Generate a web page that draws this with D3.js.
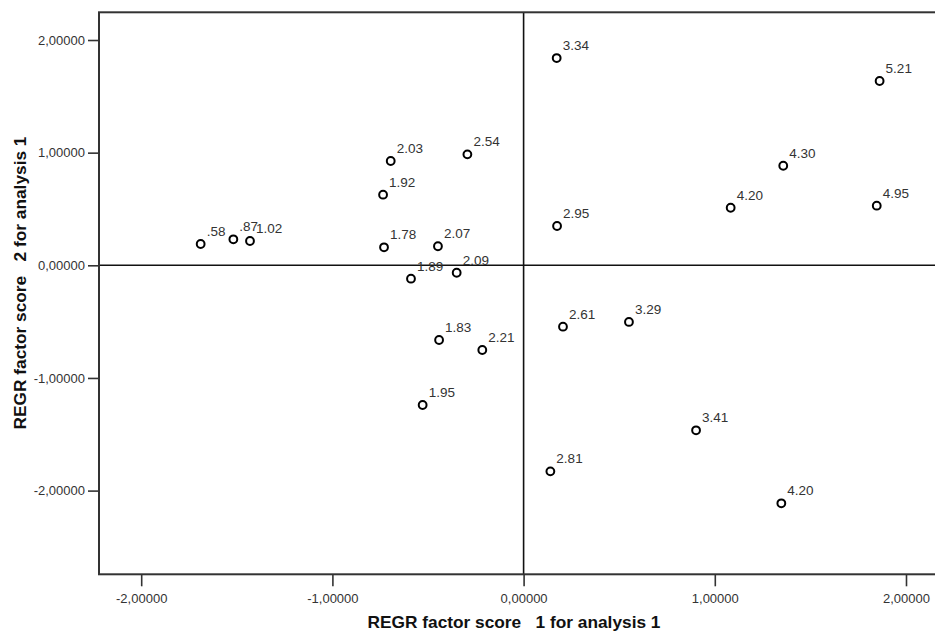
<!DOCTYPE html>
<html><head><meta charset="utf-8">
<script src="https://cdn.jsdelivr.net/npm/d3@7"></script>
<style>body{margin:0;background:#fff}svg{display:block}</style>
</head><body>
<svg id="c" width="935" height="632"></svg>
<script>
const labels = [".58",".87","1.02","2.03","2.54","1.92","1.78","2.07","1.89","2.09","1.83","2.21","1.95","3.34","5.21","4.30","4.20","4.95","2.95","2.61","3.29","3.41","2.81","4.20"];
const factor1 = [-1.689,-1.518,-1.431,-0.695,-0.294,-0.735,-0.730,-0.448,-0.589,-0.350,-0.442,-0.216,-0.528,0.173,1.862,1.358,1.083,1.847,0.175,0.206,0.551,0.902,0.140,1.348];
const factor2 = [0.189,0.231,0.216,0.926,0.985,0.627,0.160,0.169,-0.119,-0.066,-0.663,-0.752,-1.240,1.840,1.636,0.884,0.511,0.529,0.349,-0.545,-0.503,-1.465,-1.829,-2.113];
const xTicks = [-2,-1,0,1,2];
const yTicks = [-2,-1,0,1,2];
const xTitle = "REGR factor score   1 for analysis 1";
const yTitle = "REGR factor score   2 for analysis 1";

const svg = d3.select("#c");
const x = d3.scaleLinear().domain([-2.2207, 2.2]).range([99, 99 + 4.4207*191.2]);
const y = d3.scaleLinear().domain([-2.743, 2.246]).range([574.3, 12.3]);
const fmt = v => d3.format(".5f")(v).replace(".", ",").replace("−","-");

const x0 = x.range()[0], x1 = x.range()[1], yT = y.range()[1], yB = y.range()[0];
const FONT = "Liberation Sans, Arial, sans-serif";

// zero lines
svg.append("line").attr("x1", x0).attr("x2", x1).attr("y1", y(0)).attr("y2", y(0))
  .attr("stroke", "#111").attr("stroke-width", 1.6);
svg.append("line").attr("x1", x(0)).attr("x2", x(0)).attr("y1", yT).attr("y2", yB)
  .attr("stroke", "#111").attr("stroke-width", 1.6);

// frame
svg.append("rect").attr("x", x0).attr("y", yT).attr("width", x1 - x0).attr("height", yB - yT)
  .attr("fill", "none").attr("stroke", "#333").attr("stroke-width", 2);

// axes
const xAxis = d3.axisBottom(x).tickValues(xTicks).tickFormat(fmt).tickSize(12).tickSizeOuter(0);
const gx = svg.append("g").attr("transform", `translate(0,${yB})`).call(xAxis);
gx.select(".domain").remove();
gx.selectAll("line").attr("stroke", "#333").attr("stroke-width", 1.6);
gx.selectAll("text").attr("font-family", FONT).attr("font-size", 13)
  .attr("fill", "#333").attr("dy", "1.03em");

const yAxis = d3.axisLeft(y).tickValues(yTicks).tickFormat(fmt).tickSize(11).tickSizeOuter(0);
const gy = svg.append("g").attr("transform", `translate(${x0},0)`).call(yAxis);
gy.select(".domain").remove();
gy.selectAll("line").attr("stroke", "#333").attr("stroke-width", 1.6);
gy.selectAll("text").attr("font-family", FONT).attr("font-size", 13)
  .attr("fill", "#333").attr("x", -14);

// points
const data = labels.map((l, i) => ({l, a: factor1[i], b: factor2[i]}));
svg.append("g").selectAll("circle").data(data).join("circle")
  .attr("cx", d => x(d.a)).attr("cy", d => y(d.b)).attr("r", 3.9)
  .attr("fill", "#fff").attr("stroke", "#000").attr("stroke-width", 2);
svg.append("g").selectAll("text").data(data).join("text")
  .attr("x", d => x(d.a) + 6).attr("y", d => y(d.b) - 8)
  .attr("font-family", FONT).attr("font-size", 13.5)
  .attr("fill", "#333").text(d => d.l);

// titles
svg.append("text").attr("x", 514).attr("y", 628).attr("text-anchor", "middle")
  .attr("font-family", FONT).attr("font-size", 17.3).attr("font-weight", "bold")
  .attr("fill", "#111").style("white-space", "pre").text(xTitle);
svg.append("text").attr("transform", "translate(26,283) rotate(-90)").attr("text-anchor", "middle")
  .attr("font-family", FONT).attr("font-size", 17.3).attr("font-weight", "bold")
  .attr("fill", "#111").style("white-space", "pre").text(yTitle);
</script>
</body></html>
